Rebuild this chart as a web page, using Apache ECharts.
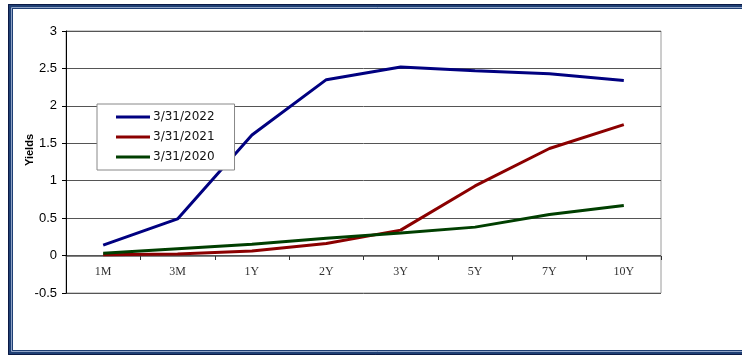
<!DOCTYPE html>
<html>
<head>
<meta charset="utf-8">
<style>
  html, body { margin: 0; padding: 0; background: #ffffff; }
  #chart { width: 742px; height: 356px; }
</style>
<script src="https://cdn.jsdelivr.net/npm/echarts@6/dist/echarts.min.js"></script>
</head>
<body>
<div id="chart"></div>
<script>
// Treasury yield curves by maturity
const maturities = ['1M', '3M', '1Y', '2Y', '3Y', '5Y', '7Y', '10Y'];
const yields2022 = [0.14, 0.49, 1.61, 2.35, 2.52, 2.47, 2.43, 2.34];
const yields2021 = [0.01, 0.02, 0.06, 0.16, 0.34, 0.93, 1.43, 1.75];
const yields2020 = [0.03, 0.09, 0.15, 0.23, 0.30, 0.38, 0.55, 0.67];
const seriesNames = ['3/31/2022', '3/31/2021', '3/31/2020'];
const yTicks = { min: -0.5, max: 3, step: 0.5 };

const gridTop = 31, gridBottom = 63, chartHeight = 356;
// vertical distance from the bottom of the plot to the zero line
const zeroOffset = (chartHeight - gridTop - gridBottom) * (0 - yTicks.min) / (yTicks.max - yTicks.min);

const chart = echarts.init(document.getElementById('chart'), null, { renderer: 'canvas' });

const lineSeries = (name, data, color) => ({
  name: name,
  type: 'line',
  data: data,
  symbol: 'none',
  smooth: false,
  lineStyle: { color: color, width: 3 },
  itemStyle: { color: color },
  z: 5
});

chart.setOption({
  animation: false,
  backgroundColor: '#ffffff',
  grid: { left: 66, right: 81, top: gridTop, bottom: gridBottom, show: true, borderColor: '#9a9a9a', borderWidth: 1 },
  legend: {
    orient: 'vertical',
    left: 97,
    top: 104,
    data: seriesNames,
    icon: 'rect',
    itemWidth: 34,
    itemHeight: 3,
    itemGap: 8,
    padding: [7, 20, 7, 19],
    backgroundColor: '#ffffff',
    borderColor: '#888888',
    borderWidth: 1,
    textStyle: { fontFamily: 'DejaVu Sans', fontSize: 12, color: '#111', padding: [0, 0, 0, -2] },
    z: 10
  },
  xAxis: {
    type: 'category',
    data: maturities,
    boundaryGap: true,
    position: 'bottom',
    offset: -Math.round(zeroOffset),
    axisLine: { onZero: false, lineStyle: { color: '#808080', width: 1 } },
    axisTick: { show: true, inside: false, length: 4, lineStyle: { color: '#333' } },
    axisLabel: { fontFamily: 'Liberation Serif', fontSize: 12, color: '#333', margin: 10 },
    splitLine: { show: false }
  },
  yAxis: {
    type: 'value',
    min: yTicks.min,
    max: yTicks.max,
    interval: yTicks.step,
    name: 'Yields',
    nameLocation: 'middle',
    nameGap: 31,
    nameMoveOverlap: false,
    nameRotate: 90,
    nameTextStyle: { fontFamily: 'Liberation Sans', fontSize: 11, fontWeight: 'bold', color: '#000', padding: [0, 0, 0, 24] },
    axisLine: { show: true, lineStyle: { color: '#000', width: 1 } },
    axisTick: { show: true, length: 4, lineStyle: { color: '#000' } },
    axisLabel: { fontFamily: 'Liberation Sans', fontSize: 13, color: '#000', margin: 9 },
    splitLine: { show: true, lineStyle: { color: '#555', width: 1 } }
  },
  series: [
    lineSeries(seriesNames[0], yields2022, '#000080'),
    lineSeries(seriesNames[1], yields2021, '#8b0000'),
    lineSeries(seriesNames[2], yields2020, '#003f00')
  ],
  graphic: [
    {
      type: 'rect',
      silent: true,
      shape: { x: 10.5, y: 6.5, width: 760, height: 346 },
      style: { fill: null, stroke: '#1f3f74', lineWidth: 5 },
      z: 100
    },
    {
      type: 'rect',
      silent: true,
      shape: { x: 8.5, y: 4.5, width: 760, height: 350 },
      style: { fill: null, stroke: '#0b1a45', lineWidth: 1 },
      z: 101
    },
    {
      type: 'rect',
      silent: true,
      shape: { x: 11.5, y: 7.5, width: 760, height: 344 },
      style: { fill: null, stroke: '#8fa3c6', lineWidth: 1 },
      z: 101
    }
  ]
});
</script>
</body>
</html>
